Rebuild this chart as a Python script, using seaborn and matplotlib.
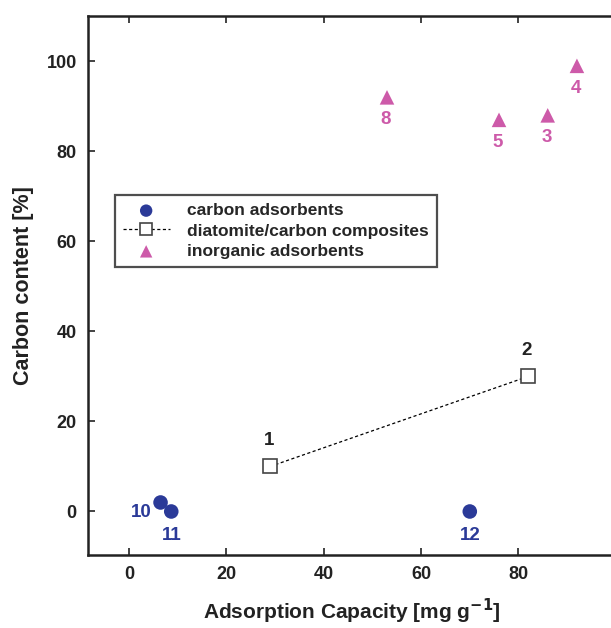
import pandas as pd
import matplotlib.pyplot as plt
import seaborn as sns

# sample numbers, adsorption capacity [mg/g], carbon content [%]
carbon_ids = ['10', '11', '12']
carbon_cap = [6.5, 8.7, 70.0]
carbon_c = [2, 0, 0]

comp_ids = ['1', '2']
comp_cap = [29, 82]
comp_c = [10, 30]

inorg_ids = ['8', '5', '3', '4']
inorg_cap = [53, 76, 86, 92]
inorg_c = [92, 87, 88, 99]

blue = '#2b3a98'
pink = '#cd5aa9'

sns.set_style('ticks')
plt.rcParams['font.family'] = ['Liberation Sans', 'DejaVu Sans']
plt.rcParams['font.weight'] = 'bold'
plt.rcParams['mathtext.default'] = 'bf'

fig = plt.figure(figsize=(6.11, 6.28), dpi=100)
ax = fig.add_axes([0.144, 0.116, 0.864, 0.858])

sns.scatterplot(x=carbon_cap, y=carbon_c, ax=ax, color=blue, marker='o', s=110,
                edgecolor='none', label='carbon adsorbents', zorder=3)
sns.lineplot(x=comp_cap, y=comp_c, ax=ax, color='black', linestyle=(0, (2.5, 2)), lw=0.9,
             marker='s', markersize=10, markerfacecolor='white', markeredgecolor='#444444',
             markeredgewidth=1.2, label='diatomite/carbon composites', zorder=3)
sns.scatterplot(x=inorg_cap, y=inorg_c, ax=ax, color=pink, marker='^', s=110,
                edgecolor='none', label='inorganic adsorbents', zorder=3)

# sample number labels
def tag(ids, xs, ys, color, dx, dy):
    for t, x, y in zip(ids, xs, ys):
        ax.annotate(t, (x, y), xytext=(dx, dy), textcoords='offset points',
                    ha='center', va='center', color=color, fontsize=13.5, fontweight='bold')

tag(carbon_ids[:1], carbon_cap[:1], carbon_c[:1], blue, -14, -7)
tag(carbon_ids[1:], carbon_cap[1:], carbon_c[1:], blue, 0, -17)
tag(comp_ids, comp_cap, comp_c, '#222222', -1, 19)
tag(inorg_ids, inorg_cap, inorg_c, pink, -1, -16)

ax.set_xlim(-8.4, 100)
ax.set_ylim(-9.7, 110)
ax.set_xticks([0, 20, 40, 60, 80])
ax.set_yticks([0, 20, 40, 60, 80, 100])
ax.tick_params(direction='in', length=5, width=1.2, labelsize=13, pad=8,
               top=True, right=False, color='#222222', labelcolor='#222222')
for s in ['left', 'bottom', 'top']:
    ax.spines[s].set_linewidth(1.8)
    ax.spines[s].set_color('#222222')
ax.spines['right'].set_visible(False)

ax.set_xlabel('Adsorption Capacity [mg g$^{\\mathbf{-1}}$]', fontsize=15, fontweight='bold',
              labelpad=10, color='#222222')
ax.set_ylabel('Carbon content [%]', fontsize=15.5, fontweight='bold', labelpad=9, color='#222222')

leg = ax.legend(loc='upper left', bbox_to_anchor=(0.051, 0.668), frameon=True, fancybox=False,
                prop={'weight': 'bold', 'size': 12.5}, handlelength=2.7, borderpad=0.45,
                labelspacing=0.3, handletextpad=1.0, borderaxespad=0, markerscale=0.85)
leg.get_frame().set_edgecolor('#222222')
leg.get_frame().set_linewidth(1.6)

fig.savefig('out.png', dpi=100)
